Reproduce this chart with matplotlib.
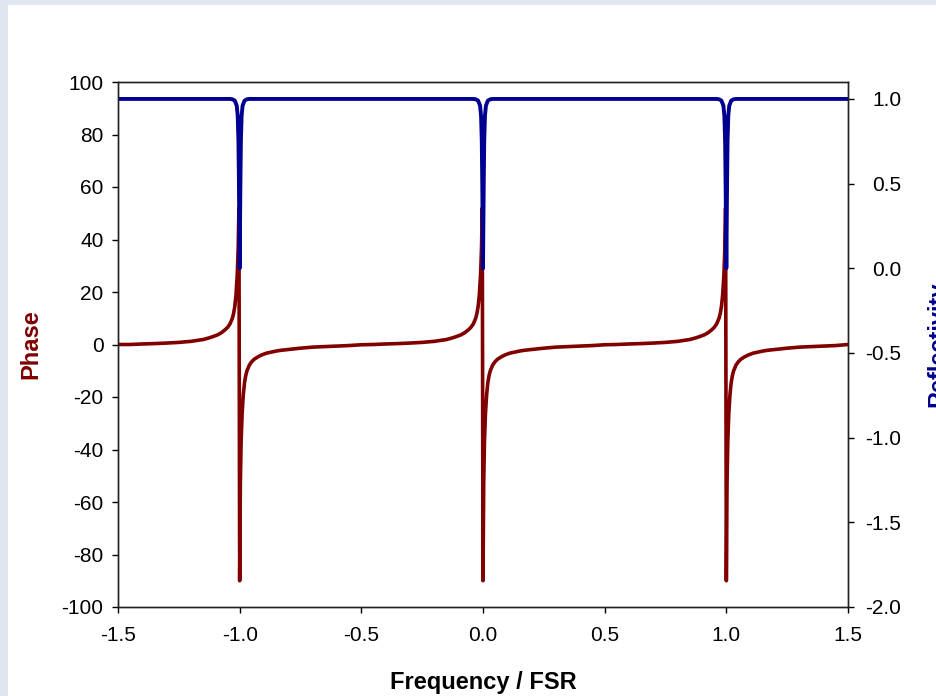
import matplotlib
matplotlib.use("Agg")
import matplotlib.pyplot as plt
from matplotlib.patches import Rectangle

plt.rcParams['font.family'] = ['Liberation Sans', 'DejaVu Sans']
plt.rcParams['axes.unicode_minus'] = False

# ---- data (phase, one list per resonance region) ----
freq_a = [-1.5, -1.45, -1.4, -1.35, -1.3, -1.25, -1.2, -1.17, -1.15, -1.13,
          -1.11, -1.09, -1.075, -1.06, -1.05, -1.04, -1.03, -1.025, -1.02, -1.015,
          -1.01, -1.006, -1.003, -1.0,
          -0.997, -0.994, -0.99, -0.985, -0.98, -0.975,
          -0.97, -0.96, -0.95, -0.94, -0.925, -0.91,
          -0.89, -0.87, -0.85, -0.83, -0.8, -0.75,
          -0.7, -0.65, -0.6, -0.55]
phase_a = [0.0, 0.0, 0.2, 0.35, 0.55, 0.8, 1.2, 1.6, 1.9, 2.4,
           3.0, 3.7, 4.5, 5.6, 6.5, 7.8, 10.0, 11.8, 14.5, 19.0,
           26.5, 37.0, 52.0, -90.0,
           -52.0, -37.0, -26.5, -19.0, -14.5, -11.8,
           -10.0, -7.8, -6.5, -5.6, -4.7, -4.0,
           -3.3, -2.9, -2.5, -2.2, -1.9, -1.4,
           -1.0, -0.8, -0.6, -0.4]

freq_b = [-0.5, -0.45, -0.4, -0.35, -0.3, -0.25, -0.2, -0.17, -0.15, -0.13,
          -0.11, -0.09, -0.075, -0.06, -0.05, -0.04, -0.03, -0.025, -0.02, -0.015,
          -0.01, -0.006, -0.003, 0.0,
          0.003, 0.006, 0.01, 0.015, 0.02, 0.025,
          0.03, 0.04, 0.05, 0.06, 0.075, 0.09,
          0.11, 0.13, 0.15, 0.17, 0.2, 0.25,
          0.3, 0.35, 0.4, 0.45]
phase_b = [-0.1, 0.0, 0.2, 0.35, 0.55, 0.8, 1.2, 1.6, 1.9, 2.4,
           3.0, 3.7, 4.5, 5.6, 6.5, 7.8, 10.0, 11.8, 14.5, 19.0,
           26.5, 37.0, 52.0, -90.0,
           -52.0, -37.0, -26.5, -19.0, -14.5, -11.8,
           -10.0, -7.8, -6.5, -5.6, -4.7, -4.0,
           -3.3, -2.9, -2.5, -2.2, -1.9, -1.4,
           -1.0, -0.8, -0.6, -0.4]

freq_c = [0.5, 0.55, 0.6, 0.65, 0.7, 0.75, 0.8, 0.83, 0.85, 0.87,
          0.89, 0.91, 0.925, 0.94, 0.95, 0.96, 0.97, 0.975, 0.98, 0.985,
          0.99, 0.994, 0.997, 1.0,
          1.003, 1.006, 1.01, 1.015, 1.02, 1.025,
          1.03, 1.04, 1.05, 1.06, 1.075, 1.09,
          1.11, 1.13, 1.15, 1.17, 1.2, 1.25,
          1.3, 1.35, 1.4, 1.45, 1.5]
phase_c = [-0.1, 0.0, 0.2, 0.35, 0.55, 0.8, 1.2, 1.6, 1.9, 2.4,
           3.0, 3.7, 4.5, 5.6, 6.5, 7.8, 10.0, 11.8, 14.5, 19.0,
           26.5, 37.0, 52.0, -90.0,
           -52.0, -37.0, -26.5, -19.0, -14.5, -11.8,
           -10.0, -7.8, -6.5, -5.6, -4.7, -4.0,
           -3.3, -2.9, -2.5, -2.2, -1.9, -1.4,
           -1.0, -0.8, -0.6, -0.4, 0.0]

# ---- reflectivity ----
freq_refl = [
    -1.5, -1.04, -1.03, -1.02, -1.012, -1.008, -1.005, -1.003, -1.0015, -1.0,
    -0.9985, -0.997, -0.995, -0.992, -0.988, -0.98, -0.97, -0.96,
    -0.04, -0.03, -0.02, -0.012, -0.008, -0.005, -0.003, -0.0015, 0.0,
    0.0015, 0.003, 0.005, 0.008, 0.012, 0.02, 0.03, 0.04,
    0.96, 0.97, 0.98, 0.988, 0.992, 0.995, 0.997, 0.9985, 1.0,
    1.0015, 1.003, 1.005, 1.008, 1.012, 1.02, 1.03, 1.04, 1.5,
]
reflectivity = [
    1.0, 1.0, 0.998, 0.99, 0.96, 0.9, 0.75, 0.5, 0.25, 0.0,
    0.25, 0.5, 0.75, 0.9, 0.96, 0.99, 0.998, 1.0,
    1.0, 0.998, 0.99, 0.96, 0.9, 0.75, 0.5, 0.25, 0.0,
    0.25, 0.5, 0.75, 0.9, 0.96, 0.99, 0.998, 1.0,
    1.0, 0.998, 0.99, 0.96, 0.9, 0.75, 0.5, 0.25, 0.0,
    0.25, 0.5, 0.75, 0.9, 0.96, 0.99, 0.998, 1.0, 1.0,
]

x_ticks = [-1.5, -1.0, -0.5, 0.0, 0.5, 1.0, 1.5]
phase_ticks = [-100, -80, -60, -40, -20, 0, 20, 40, 60, 80, 100]
refl_ticks = [-2.0, -1.5, -1.0, -0.5, 0.0, 0.5, 1.0]

freq_phase = freq_a + freq_b + freq_c
phase_deg = phase_a + phase_b + phase_c

red = '#800000'
blue = '#000090'

W, H = 936, 696
fig = plt.figure(figsize=(W / 100, H / 100), dpi=100, facecolor='#dfe6f0')
fig.patches.append(Rectangle((8 / W, 0), 1, (H - 5) / H, transform=fig.transFigure,
                             facecolor='white', edgecolor='none', zorder=-10))

ax = fig.add_axes([118 / W, 1 - 607 / H, (848 - 118) / W, (607 - 82) / H])
ax.plot(freq_phase, phase_deg, color=red, lw=2.6, solid_joinstyle='round')
ax.set_xlim(-1.5, 1.5)
ax.set_ylim(-100, 100)
ax.set_xticks(x_ticks)
ax.set_xticklabels([f"{v:.1f}" for v in x_ticks])
ax.set_yticks(phase_ticks)
ax.set_yticklabels([str(v) for v in phase_ticks])
ax.tick_params(axis='both', direction='out', length=4.5, width=1, labelsize=15)
ax.tick_params(axis='x', pad=9)
ax.tick_params(axis='y', pad=6)
ax.set_xlabel('Frequency / FSR', fontsize=17, fontweight='bold', labelpad=19)
ax.set_ylabel('Phase', fontsize=17, fontweight='bold', color=red, labelpad=14)

ax2 = ax.twinx()
ax2.plot(freq_refl, reflectivity, color=blue, lw=2.8, solid_joinstyle='round')
ax2.set_ylim(-2.0, 1.1)
ax2.set_yticks(refl_ticks)
ax2.set_yticklabels([f"{v:.1f}" for v in refl_ticks])
ax2.tick_params(axis='y', direction='out', length=4.5, width=1, labelsize=15, pad=34)
for lab in ax2.get_yticklabels():
    lab.set_horizontalalignment('right')
ax2.set_ylabel('Reflectivity', fontsize=17, fontweight='bold', color='#00008B', labelpad=18)

for a in (ax, ax2):
    for s in a.spines.values():
        s.set_color('#222222')
        s.set_linewidth(1)

fig.savefig('out.png', dpi=100, facecolor=fig.get_facecolor())
